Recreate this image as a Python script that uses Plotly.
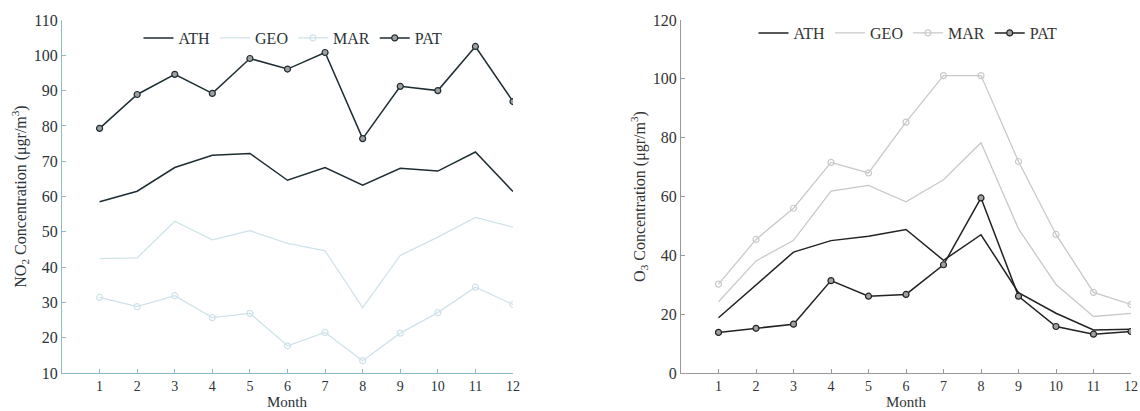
import plotly.graph_objects as go

months = list(range(1, 13))
month_ticks = [str(m) for m in months]

# NO2 concentrations (left panel)
no2_ath = [58.5, 61.5, 68.2, 71.7, 72.2, 64.6, 68.2, 63.2, 68.0, 67.2, 72.6, 61.4]
no2_geo = [42.4, 42.6, 53.0, 47.7, 50.3, 46.7, 44.6, 28.5, 43.3, 48.5, 54.1, 51.3]
no2_mar = [31.4, 28.8, 31.9, 25.7, 26.9, 17.7, 21.5, 13.5, 21.3, 27.1, 34.3, 29.4]
no2_pat = [79.3, 88.9, 94.6, 89.2, 99.1, 96.1, 100.8, 76.4, 91.2, 90.0, 102.5, 86.9]

# O3 concentrations (right panel)
o3_ath = [18.8, 30.0, 41.1, 45.0, 46.5, 48.8, 38.3, 47.0, 27.3, 20.3, 14.6, 14.9]
o3_geo = [24.2, 38.1, 45.1, 61.8, 63.8, 58.2, 65.7, 78.3, 49.0, 30.1, 19.2, 20.3]
o3_mar = [30.2, 45.4, 56.0, 71.6, 68.0, 85.3, 101.1, 101.1, 71.9, 47.1, 27.4, 23.3]
o3_pat = [13.8, 15.2, 16.6, 31.4, 26.1, 26.7, 36.8, 59.5, 26.1, 15.8, 13.2, 14.1]

station_names = ["ATH", "GEO", "MAR", "PAT"]

FONT = "Liberation Serif, Times New Roman, serif"
W, H = 1140, 411

L_DARK = "#1e2d33"
L_LIGHT = "#cfe2ea"
L_AXIS = "#8fb9cc"
L_TEXT = "#2a3338"

R_DARK = "#222222"
R_LIGHT = "#c9c9c9"
R_AXIS = "#9a9a9a"
R_TEXT = "#333333"

fig = go.Figure()


def add_panel(vals, dark, light, xa, ya, legend):
    ath, geo, mar, pat = vals
    fig.add_trace(go.Scatter(x=months, y=ath, mode="lines", name=station_names[0],
                             line=dict(color=dark, width=1.5), xaxis=xa, yaxis=ya, legend=legend))
    fig.add_trace(go.Scatter(x=months, y=geo, mode="lines", name=station_names[1],
                             line=dict(color=light, width=1.3), xaxis=xa, yaxis=ya, legend=legend))
    fig.add_trace(go.Scatter(x=months, y=mar, mode="lines+markers", name=station_names[2],
                             line=dict(color=light, width=1.3),
                             marker=dict(symbol="circle-open", size=6, color=light, line=dict(width=1.2)),
                             xaxis=xa, yaxis=ya, legend=legend))
    fig.add_trace(go.Scatter(x=months, y=pat, mode="lines+markers", name=station_names[3],
                             line=dict(color=dark, width=1.5),
                             marker=dict(symbol="circle", size=6, color="#a0a0a0",
                                         line=dict(color=dark, width=1.2)),
                             xaxis=xa, yaxis=ya, legend=legend))


add_panel([no2_ath, no2_geo, no2_mar, no2_pat], L_DARK, L_LIGHT, "x", "y", "legend")
add_panel([o3_ath, o3_geo, o3_mar, o3_pat], R_DARK, R_LIGHT, "x2", "y2", "legend2")

ydom = [1 - 373 / H, 1 - 20 / H]


def xaxis(dom, axc, txc):
    return dict(domain=dom, range=[0, 12], tickmode="array", tickvals=months, ticktext=month_ticks,
                showline=True, linecolor=axc, linewidth=1.2, ticks="inside", ticklen=4, tickcolor=axc,
                showgrid=False, zeroline=False, automargin=False,
                tickfont=dict(family=FONT, size=14, color=txc))


def yaxis(rng, dt, title, axc, txc, anchor, standoff):
    return dict(domain=ydom, range=rng, dtick=dt, anchor=anchor, automargin=False,
                showline=True, linecolor=axc, linewidth=1.2, ticks="inside", ticklen=4, tickcolor=axc,
                showgrid=False, zeroline=False, tickfont=dict(family=FONT, size=16, color=txc),
                title=dict(text=title, standoff=standoff, font=dict(family=FONT, size=16, color=txc)))


fig.update_layout(
    width=W, height=H,
    margin=dict(l=0, r=0, t=0, b=0, autoexpand=False),
    paper_bgcolor="white", plot_bgcolor="white",
    font=dict(family=FONT, size=16),
    xaxis=xaxis([62 / W, 513 / W], L_AXIS, L_TEXT) | dict(anchor="y"),
    yaxis=yaxis([10, 110], 10, "NO<sub>2</sub> Concentration (μgr/m<sup>3</sup>)", L_AXIS, L_TEXT, "x", 3),
    xaxis2=xaxis([681 / W, 1131 / W], R_AXIS, R_TEXT) | dict(anchor="y2"),
    yaxis2=yaxis([0, 120], 20, "O<sub>3</sub> Concentration (μgr/m<sup>3</sup>)", R_AXIS, R_TEXT, "x2", 3),
    legend=dict(orientation="h", x=293 / W, y=1 - 38 / H, xanchor="center", yanchor="middle",
                bgcolor="rgba(0,0,0,0)", font=dict(family=FONT, size=16, color=L_TEXT),
                itemwidth=30, tracegroupgap=0),
    legend2=dict(orientation="h", x=908 / W, y=1 - 33 / H, xanchor="center", yanchor="middle",
                 bgcolor="rgba(0,0,0,0)", font=dict(family=FONT, size=16, color=R_TEXT),
                 itemwidth=30, tracegroupgap=0),
    showlegend=True,
    annotations=[
        dict(text="Month", xref="paper", yref="paper", x=287 / W, y=0,
             xanchor="center", yanchor="bottom", showarrow=False, borderpad=0,
             font=dict(family=FONT, size=15, color=L_TEXT)),
        dict(text="Month", xref="paper", yref="paper", x=906 / W, y=0,
             xanchor="center", yanchor="bottom", showarrow=False, borderpad=0,
             font=dict(family=FONT, size=15, color=R_TEXT)),
    ],
)

fig.write_html("out.html", config={"displayModeBar": False},
               post_script="document.body.style.margin='0';document.body.style.overflow='hidden';")
